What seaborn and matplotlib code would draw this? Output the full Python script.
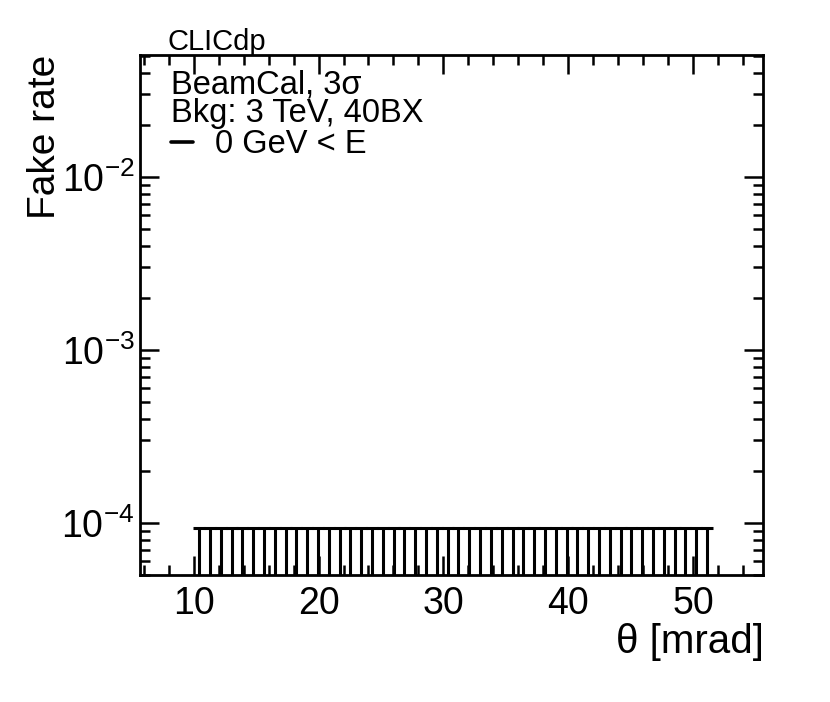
import matplotlib
matplotlib.use("Agg")
import matplotlib.pyplot as plt
from matplotlib.lines import Line2D
from matplotlib.ticker import MultipleLocator, LogLocator
import seaborn as sns

# theta bin centres [mrad]
THETA = [10.43, 11.30, 12.17, 13.03, 13.90, 14.76, 15.63, 16.49, 17.36, 18.23,
         19.09, 19.96, 20.82, 21.69, 22.55, 23.42, 24.29, 25.15, 26.02, 26.88,
         27.75, 28.61, 29.48, 30.35, 31.21, 32.08, 32.94, 33.81, 34.67, 35.54,
         36.41, 37.27, 38.14, 39.00, 39.87, 40.73, 41.60, 42.47, 43.33, 44.20,
         45.06, 45.93, 46.79, 47.66, 48.53, 49.39, 50.26, 51.12]
# fake rate (zero in every bin) and its upper error
FAKE_RATE = [0.0, 0.0, 0.0, 0.0, 0.0, 0.0, 0.0, 0.0, 0.0, 0.0,
             0.0, 0.0, 0.0, 0.0, 0.0, 0.0, 0.0, 0.0, 0.0, 0.0,
             0.0, 0.0, 0.0, 0.0, 0.0, 0.0, 0.0, 0.0, 0.0, 0.0,
             0.0, 0.0, 0.0, 0.0, 0.0, 0.0, 0.0, 0.0, 0.0, 0.0,
             0.0, 0.0, 0.0, 0.0, 0.0, 0.0, 0.0, 0.0]
ERR_UP = [9.3e-5, 9.3e-5, 9.3e-5, 9.3e-5, 9.3e-5, 9.3e-5, 9.3e-5, 9.3e-5,
          9.3e-5, 9.3e-5, 9.3e-5, 9.3e-5, 9.3e-5, 9.3e-5, 9.3e-5, 9.3e-5,
          9.3e-5, 9.3e-5, 9.3e-5, 9.3e-5, 9.3e-5, 9.3e-5, 9.3e-5, 9.3e-5,
          9.3e-5, 9.3e-5, 9.3e-5, 9.3e-5, 9.3e-5, 9.3e-5, 9.3e-5, 9.3e-5,
          9.3e-5, 9.3e-5, 9.3e-5, 9.3e-5, 9.3e-5, 9.3e-5, 9.3e-5, 9.3e-5,
          9.3e-5, 9.3e-5, 9.3e-5, 9.3e-5, 9.3e-5, 9.3e-5, 9.3e-5, 9.3e-5]
ERR_DOWN = [0.0] * len(ERR_UP)  # nothing below a zero rate

sns.set_theme(style="ticks")
plt.rcParams["font.family"] = ["Liberation Sans", "DejaVu Sans"]
plt.rcParams["text.color"] = "black"
plt.rcParams["mathtext.fontset"] = "custom"
plt.rcParams["mathtext.rm"] = "Liberation Sans"
plt.rcParams["mathtext.it"] = "Liberation Sans:italic"
plt.rcParams["mathtext.default"] = "regular"

W, H = 830, 702
fig = plt.figure(figsize=(W / 100, H / 100), dpi=100)
ax = fig.add_axes([140 / W, 1 - 575 / H, 623 / W, 520 / H])

ax.errorbar(THETA, FAKE_RATE, yerr=[ERR_DOWN, ERR_UP], fmt="none",
            ecolor="black", elinewidth=2.2, capsize=4.4, capthick=2.2)

ax.set_yscale("log")
ax.set_xlim(5.7, 55.6)
ax.set_ylim(5e-5, 5.07e-2)

ax.xaxis.set_major_locator(MultipleLocator(10))
ax.xaxis.set_minor_locator(MultipleLocator(2))
ax.yaxis.set_major_locator(LogLocator(base=10))
ax.yaxis.set_minor_locator(LogLocator(base=10, subs=range(2, 10)))

for s in ax.spines.values():
    s.set_linewidth(2.0)
    s.set_color("black")
ax.tick_params(which="both", direction="in", top=True, right=True,
               color="black", width=1.8)
ax.tick_params(which="major", length=14, labelsize=27, pad=4, labelcolor="black")
ax.tick_params(axis="x", which="major", pad=8)
ax.tick_params(which="minor", length=7)

fig.text(45 / W, 1 - 55 / H, "Fake rate", rotation=90, ha="center", va="top",
         fontsize=28)
fig.text(764 / W, 1 - 653 / H, "θ [mrad]", ha="right", va="baseline",
         fontsize=29)

fig.text(167 / W, 1 - 50 / H, "CLICdp", fontsize=21, va="baseline")
fig.text(171 / W, 1 - 93 / H, "BeamCal, 3σ", fontsize=23.5, va="baseline")
fig.text(171 / W, 1 - 122 / H, "Bkg: 3 TeV, 40BX", fontsize=23.5, va="baseline")

handle = Line2D([], [], color="black", lw=2.6)
fig.legend([handle], ["0 GeV < E"], loc="upper left",
           bbox_to_anchor=(171 / W, 1 - 129 / H), frameon=False, fontsize=23.5,
           handlelength=0.66, handletextpad=0.68, borderpad=0, borderaxespad=0)

fig.savefig("out.png", dpi=100, facecolor="white")
